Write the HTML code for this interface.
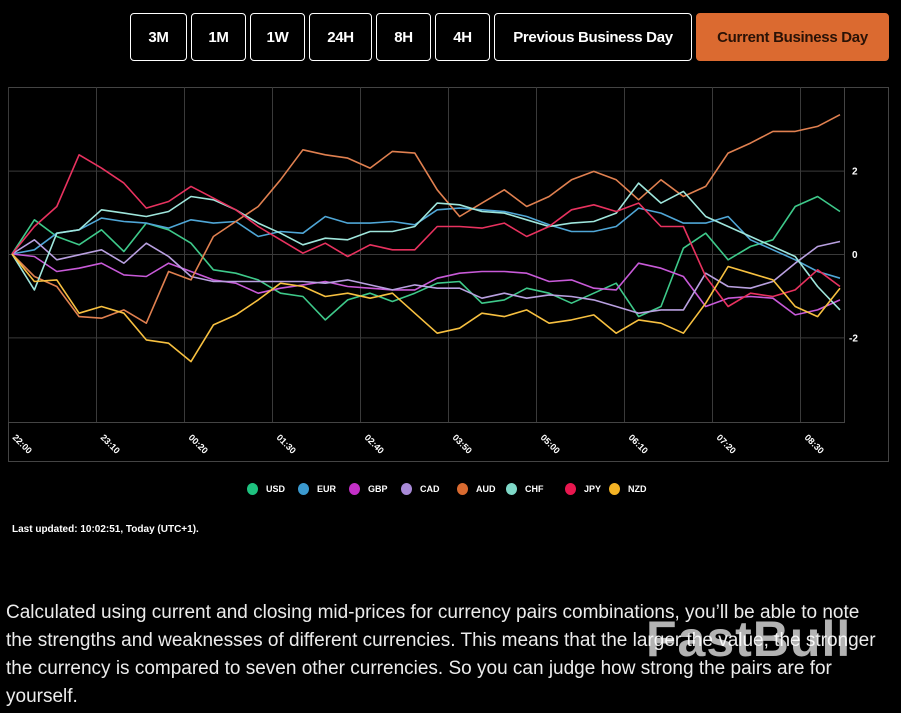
<!DOCTYPE html>
<html><head><meta charset="utf-8"><style>
body{margin:0;width:901px;height:713px;background:#000;overflow:hidden;font-family:"Liberation Sans",sans-serif;position:relative}
.btn{position:absolute;top:13px;height:48px;border:1px solid #fff;border-radius:4px;color:#fff;font-weight:bold;font-size:15px;display:flex;align-items:center;justify-content:center;box-sizing:border-box;letter-spacing:-0.3px}
.cur{background:#db6a30;border-color:#db6a30;color:#2a1206}
.leg{position:absolute;top:483px;height:12px;display:flex;align-items:center;font-size:9px;font-weight:bold;color:#fff}
.dot{width:11px;height:12px;border-radius:50%;margin-right:8px}
</style></head><body>
<div class="btn" style="left:130px;width:57px">3M</div>
<div class="btn" style="left:191px;width:55px">1M</div>
<div class="btn" style="left:250px;width:55px">1W</div>
<div class="btn" style="left:309px;width:63px">24H</div>
<div class="btn" style="left:376px;width:55px">8H</div>
<div class="btn" style="left:435px;width:55px">4H</div>
<div class="btn" style="left:494px;width:198px">Previous Business Day</div>
<div class="btn cur" style="left:696px;width:193px">Current Business Day</div>

<svg id="chart" width="901" height="470" style="position:absolute;left:0;top:0"></svg>

<div id="legend"></div>

<div style="position:absolute;left:12px;top:524px;color:#fff;font-size:10px;font-weight:bold">Last updated: 10:02:51, Today (UTC+1).</div>

<div style="position:absolute;left:6px;top:599px;width:872px;color:#ececec;font-size:19px;line-height:28px">Calculated using current and closing mid-prices for currency pairs combinations, you’ll be able to note the strengths and weaknesses of different currencies. This means that the larger the value, the stronger the currency is compared to seven other currencies. So you can judge how strong the pairs are for yourself.</div>
<div style="position:absolute;left:646px;top:610px;font-size:50px;font-weight:bold;color:rgba(255,255,255,0.7);letter-spacing:1px">FastBull</div>

<script>
const timeLabels=["22:00","23:10","00:20","01:30","02:40","03:50","05:00","06:10","07:20","08:30"];
const yTicks=[2,0,-2];
const names=["USD","EUR","GBP","CAD","AUD","CHF","JPY","NZD"];
const usd=[0,.82,.42,.22,.58,.06,.74,.58,.26,-.38,-.46,-.62,-.94,-1.02,-1.58,-1.10,-.94,-1.14,-.94,-.70,-.66,-1.18,-1.10,-.82,-.94,-1.18,-.94,-.70,-1.50,-1.26,.14,.50,-.14,.18,.34,1.14,1.38,1.02];
const eur=[0,.10,.50,.58,.86,.78,.74,.62,.82,.74,.78,.42,.54,.50,.90,.74,.74,.78,.70,1.06,1.10,1.06,1.02,.90,.70,.54,.54,.66,1.10,.98,.74,.74,.90,.34,.10,-.14,-.42,-.58];
const gbp=[0,-.06,-.42,-.34,-.22,-.50,-.54,-.22,-.42,-.62,-.70,-.94,-.82,-.74,-.66,-.78,-.82,-.86,-.86,-.58,-.46,-.42,-.42,-.46,-.66,-.62,-.82,-.86,-.22,-.34,-.54,-1.26,-1.06,-1.02,-1.06,-1.46,-1.34,-1.10];
const cad=[0,.34,-.14,-.02,.10,-.22,.26,-.06,-.54,-.66,-.66,-.66,-.66,-.66,-.70,-.62,-.74,-.86,-.74,-.82,-.82,-1.06,-.94,-1.06,-.98,-1.02,-1.10,-1.26,-1.42,-1.34,-1.34,-.46,-.78,-.82,-.66,-.22,.18,.30];
const aud=[0,-.54,-.78,-1.50,-1.54,-1.34,-1.66,-.42,-.62,.42,.78,1.14,1.78,2.50,2.38,2.30,2.06,2.46,2.42,1.54,.90,1.22,1.54,1.14,1.38,1.78,1.98,1.78,1.30,1.78,1.38,1.62,2.42,2.66,2.94,2.94,3.06,3.34];
const chf=[0,-.86,.50,.58,1.06,.98,.90,1.02,1.38,1.30,1.06,.74,.50,.22,.38,.34,.54,.54,.66,1.22,1.18,1.02,.98,.82,.66,.74,.78,.98,1.70,1.22,1.50,.90,.66,.42,.18,-.06,-.78,-1.34];
const jpy=[0,.66,1.14,2.38,2.06,1.70,1.10,1.26,1.62,1.34,1.06,.66,.34,.02,.26,-.06,.22,.10,.10,.66,.66,.62,.74,.42,.66,1.06,1.18,1.02,1.22,.66,.66,-.54,-1.26,-.94,-1.02,-.86,-.38,-.78];
const nzd=[0,-.66,-.62,-1.42,-1.26,-1.42,-2.06,-2.14,-2.58,-1.70,-1.46,-1.10,-.70,-.78,-1.02,-.94,-1.06,-.94,-1.42,-1.90,-1.78,-1.42,-1.50,-1.34,-1.66,-1.58,-1.46,-1.90,-1.58,-1.66,-1.90,-1.18,-.30,-.46,-.62,-1.26,-1.50,-.82];
const series=[usd,eur,gbp,cad,aud,chf,jpy,nzd];
const lineColors=["#3ec98a","#4fa6d6","#c85ad8","#b9a0e0","#e08050","#9fe6dc","#e8325f","#f7c040"];
const dotColors=["#1ec27f","#3b9ad0","#c32fc7","#a98ad8","#d96a30","#7fd9c8","#e8174f","#f4b324"];
const NS="http://www.w3.org/2000/svg";
const svg=document.getElementById('chart');
const px0=12,px1=840,gx0=8,gstep=88;
const X=i=>px0+i*(px1-px0)/(usd.length-1);
const Y=v=>254-v*41.7;
function mk(t,a){const e=document.createElementNS(NS,t);for(const k in a)e.setAttribute(k,a[k]);svg.appendChild(e);return e;}
const frame=mk('rect',{x:8.5,y:87.5,width:880,height:374,fill:'none',stroke:'#444'});


const plot=mk('rect',{x:8.5,y:87.5,width:836,height:335,fill:'none',stroke:'#444'});


timeLabels.forEach((t,i)=>{const x=gx0+i*gstep;
 const l=mk('line',{x1:x+.5,x2:x+.5,y1:87,y2:422,stroke:'#3a3a3a'});
 
 
 const tx=mk('text',{x:x+4,y:438,fill:'#fff','font-size':9,'font-weight':'bold',transform:`rotate(45 ${x+4} 438)`});
 tx.textContent=t;
 
 });
yTicks.forEach(v=>{const y=Y(v);
 const l=mk('line',{x1:8,x2:844,y1:y+.5,y2:y+.5,stroke:'#3a3a3a'});
 
 
 const tx=mk('text',{x:v<0?849:852,y:y+4,fill:'#fff','font-size':10,'font-weight':'bold'});
 tx.textContent=v<0?'-'+(-v):String(v);
 
 });
series.forEach((s,k)=>{const p=mk('polyline',{points:s.map((v,i)=>X(i).toFixed(1)+','+Y(v).toFixed(1)).join(' '),fill:'none',stroke:lineColors[k],'stroke-width':1.6,'stroke-linejoin':'round'});
 
 });
const legX=[247,298,349,401,457,506,565,609];
const leg=document.getElementById('legend');
names.forEach((n,k)=>{const d=document.createElement('div');d.className='leg';d.style.left=legX[k]+'px';
 d.innerHTML='<span class="dot" style="background:'+dotColors[k]+'"></span>'+n;
 
 
 leg.appendChild(d);});
</script>
</body></html>
